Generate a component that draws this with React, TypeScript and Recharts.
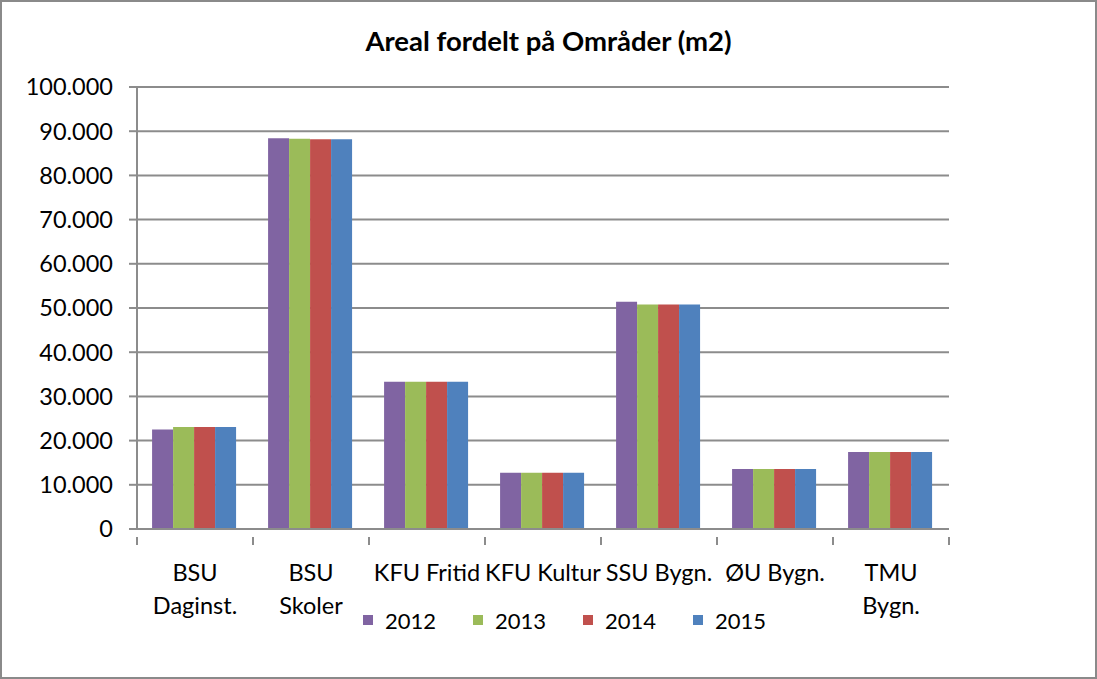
import { BarChart, Bar, XAxis, YAxis, CartesianGrid, Legend } from "recharts";

const categories = [
  "BSU\nDaginst.",
  "BSU\nSkoler",
  "KFU Fritid",
  "KFU Kultur",
  "SSU Bygn.",
  "ØU Bygn.",
  "TMU\nBygn.",
];

const years = ["2012", "2013", "2014", "2015"];
const colors = ["#8064a2", "#9bbb59", "#c0504d", "#4f81bd"];

const values2012 = [22500, 88400, 33300, 12700, 51400, 13600, 17400];
const values2013 = [23100, 88300, 33300, 12700, 50800, 13600, 17400];
const values2014 = [23100, 88200, 33300, 12700, 50800, 13600, 17400];
const values2015 = [23100, 88200, 33300, 12700, 50800, 13600, 17400];

const yTicks = [0, 10000, 20000, 30000, 40000, 50000, 60000, 70000, 80000, 90000, 100000];

const series = [values2012, values2013, values2014, values2015];

const data = categories.map((name, i) => {
  const row: Record<string, string | number> = { name };
  years.forEach((y, j) => {
    row[y] = series[j][i];
  });
  return row;
});

const FONT = "Lato, 'Open Sans', sans-serif";
const GRID = "#8c8c8c";

// plot area constants
const PLOT_LEFT = 137;
const PLOT_RIGHT = 949;
const BAND = (PLOT_RIGHT - PLOT_LEFT) / categories.length;

function fmt(v: number) {
  return String(v).replace(/\B(?=(\d{3})+(?!\d))/g, ".");
}

function CategoryTick(props: any) {
  const { x, y, payload, index } = props;
  const lines = String(payload.value).split("\n");
  const left = x - BAND / 2;
  return (
    <g>
      <line x1={left} y1={y} x2={left} y2={y + 8} stroke={GRID} strokeWidth={2} />
      {index === categories.length - 1 && (
        <line x1={left + BAND} y1={y} x2={left + BAND} y2={y + 8} stroke={GRID} strokeWidth={2} />
      )}
      <text x={x} y={y} textAnchor="middle" fontFamily={FONT} fontSize={23.5} fill="#000">
        {lines.map((l, i) => (
          <tspan key={i} x={x} dy={i === 0 ? 44 : 33}>
            {l}
          </tspan>
        ))}
      </text>
    </g>
  );
}

function LegendContent() {
  return (
    <div style={{ display: "flex", height: 24, alignItems: "center", fontFamily: FONT, fontSize: 22 }}>
      {years.map((y, i) => (
        <div key={y} style={{ display: "flex", alignItems: "center", width: i < years.length - 1 ? 110 : 80 }}>
          <span style={{ width: 10, height: 10, background: colors[i], marginRight: 12, display: "inline-block" }} />
          <span>{y}</span>
        </div>
      ))}
    </div>
  );
}

export default function App() {
  return (
    <div
      style={{
        position: "absolute",
        left: 0,
        top: 0,
        width: 1097,
        height: 679,
        background: "#fff",
        boxShadow: "inset 0 0 0 2px #8a8a8a",
      }}
    >
      <div
        style={{
          position: "absolute",
          top: 24,
          left: 0,
          width: 1097,
          textAlign: "center",
          fontFamily: FONT,
          fontWeight: 700,
          fontSize: 27.5,
          color: "#000",
        }}
      >
        Areal fordelt på Områder (m2)
      </div>
      <BarChart
        width={1097}
        height={679}
        data={data}
        margin={{ top: 87, right: 1097 - PLOT_RIGHT, bottom: 0, left: 0 }}
        barCategoryGap="13%"
        barGap={0}
      >
        <CartesianGrid vertical={false} stroke={GRID} strokeWidth={2} />
        <XAxis
          dataKey="name"
          height={126}
          axisLine={{ stroke: GRID, strokeWidth: 2 }}
          tickLine={false}
          tick={<CategoryTick />}
          interval={0}
        />
        <YAxis
          width={PLOT_LEFT}
          domain={[0, 100000]}
          ticks={yTicks}
          tickFormatter={fmt}
          axisLine={{ stroke: GRID, strokeWidth: 2 }}
          tickLine={{ stroke: GRID, strokeWidth: 2 }}
          tickSize={8}
          tickMargin={16}
          tick={{ fill: "#000", fontFamily: FONT, fontSize: 23.5 }}
          interval={0}
        />
        <Legend
          verticalAlign="bottom"
          content={<LegendContent />}
          wrapperStyle={{ left: 363, top: 608, width: 420, height: 24 }}
        />
        {years.map((y, i) => (
          <Bar key={y} dataKey={y} fill={colors[i]} isAnimationActive={false} />
        ))}
      </BarChart>
    </div>
  );
}
